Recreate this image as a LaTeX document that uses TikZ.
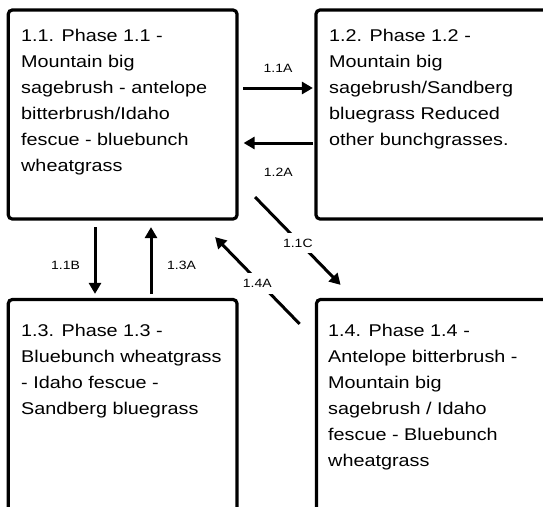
\documentclass[tikz,border=0pt]{standalone}
\usepackage{fontspec}
\setmainfont{Liberation Sans}[FakeStretch=1.165]
\usetikzlibrary{arrows.meta}
\begin{document}
\begin{tikzpicture}[x=1pt,y=-1pt,
  box/.style={draw, line width=3.2pt, rounded corners=4pt, inner sep=0pt},
  txt/.style={font=\fontsize{17}{26}\selectfont, inner sep=0pt, anchor=base west},
  arr/.style={line width=3pt, -{Triangle[length=11pt,width=12pt]}},
  lbl/.style={font=\fontsize{12}{14}\selectfont, inner sep=0pt},
  dlbl/.style={lbl, fill=white, inner xsep=2pt, inner ysep=6pt}]
\useasboundingbox (0,0) rectangle (543,506);
\clip (0,0) rectangle (543,506);
% boxes
\node[box, minimum width=228.7pt, minimum height=209pt] (b11) at (122.65,114.5) {};
\node[box, minimum width=244pt, minimum height=209pt] (b12) at (438,114.5) {};
\node[box, minimum width=228.7pt, minimum height=260.5pt] (b13) at (122.65,429.75) {};
\node[box, minimum width=243.5pt, minimum height=260.5pt] (b14) at (438.25,429.75) {};
% texts
\node[txt] (t11) at (21,41) {\begin{tabular}[t]{@{}l@{}}1.1. Phase 1.1 -\\Mountain big\\sagebrush - antelope\\bitterbrush/Idaho\\fescue - bluebunch\\wheatgrass\end{tabular}};
\node[txt] (t12) at (329,41) {\begin{tabular}[t]{@{}l@{}}1.2. Phase 1.2 -\\Mountain big\\sagebrush/Sandberg\\bluegrass Reduced\\other bunchgrasses.\end{tabular}};
\node[txt] (t13) at (21,336) {\begin{tabular}[t]{@{}l@{}}1.3. Phase 1.3 -\\Bluebunch wheatgrass\\- Idaho fescue -\\Sandberg bluegrass\end{tabular}};
\node[txt] (t14) at (328,336) {\begin{tabular}[t]{@{}l@{}}1.4. Phase 1.4 -\\Antelope bitterbrush -\\Mountain big\\sagebrush / Idaho\\fescue - Bluebunch\\wheatgrass\end{tabular}};
% arrows
\draw[arr] ([xshift=4.5pt,yshift=26.5pt]b11.east) -- ([xshift=-1.5pt,yshift=26.5pt]b12.west)
  node[lbl, midway, above=14.5pt] {1.1A};
\draw[arr] ([xshift=-1.5pt,yshift=-28.5pt]b12.west) -- ([xshift=5pt,yshift=-28.5pt]b11.east)
  node[lbl, midway, below=23.5pt] {1.2A};
\draw[arr] ([xshift=-27.65pt,yshift=-6.5pt]b11.south) -- ([xshift=-27.65pt,yshift=4pt]b13.north)
  node[lbl, midway, left=13.6pt, yshift=-4.5pt] {1.1B};
\draw[arr] ([xshift=28.35pt,yshift=4pt]b13.north) -- ([xshift=28.35pt,yshift=-6.5pt]b11.south)
  node[lbl, midway, right=14.6pt, yshift=-4.5pt] {1.3A};
\draw[arr] ([xshift=16.5pt,yshift=23.5pt]b11.south east) -- ([xshift=25.7pt,yshift=13pt]b14.north west)
  node[dlbl, midway, yshift=-2pt] {1.1C};
\draw[arr] ([xshift=-15.3pt,yshift=-26pt]b14.north west) -- ([xshift=-23.5pt,yshift=-16.5pt]b11.south east)
  node[dlbl, midway, yshift=-3pt] {1.4A};
\end{tikzpicture}
\end{document}
